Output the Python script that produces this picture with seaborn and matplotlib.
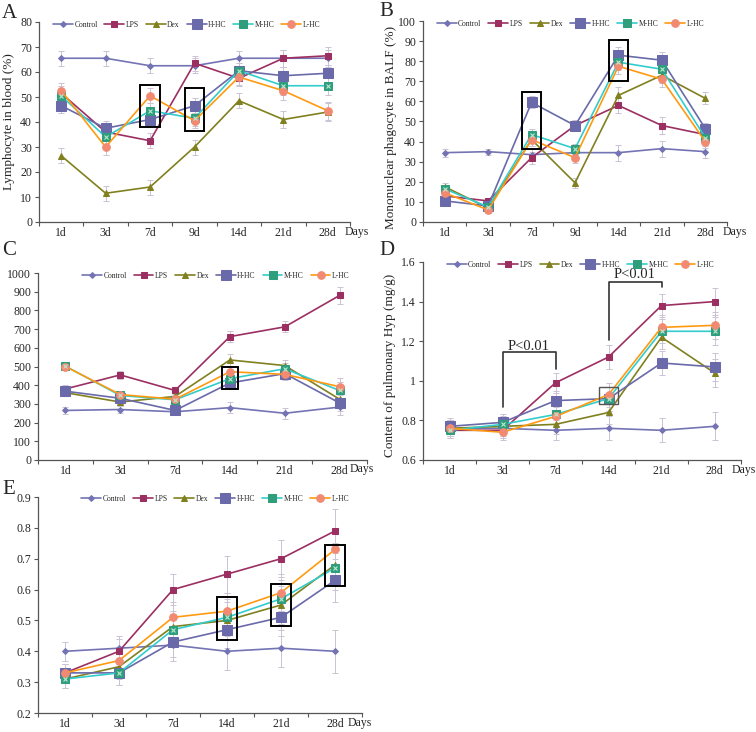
import matplotlib
matplotlib.use("Agg")
import matplotlib.pyplot as plt
from matplotlib.patches import Rectangle
import seaborn as sns
import numpy as np

sns.set_style("ticks")
plt.rcParams['font.family'] = ['Liberation Serif', 'DejaVu Serif']

# ------------------------------------------------------------
# Data
# ------------------------------------------------------------
groups = ["Control", "LPS", "Dex", "H-HC", "M-HC", "L-HC"]
days_7 = ["1d", "3d", "7d", "9d", "14d", "21d", "28d"]
days_6 = ["1d", "3d", "7d", "14d", "21d", "28d"]

# A: lymphocyte in blood (%)
a_control = [65.5, 65.5, 62.5, 62.5, 65.5, 65.5, 65.5]
a_lps = [51.5, 36, 32.5, 63.5, 57.5, 65.5, 66.5]
a_dex = [26.5, 11.5, 14, 30, 48.5, 41, 44]
a_hhc = [46.5, 37.5, 41, 46.5, 60.5, 58.5, 59.5]
a_mhc = [50.5, 34, 44.5, 41.5, 60.5, 54.5, 54.5]
a_lhc = [52.5, 30, 50.5, 40.5, 58, 52.5, 44.5]
a_err = [3, 3, 3, 3, 3, 3.5, 3.5]

# B: mononuclear phagocyte in BALF (%)
b_control = [34.5, 35, 33.5, 34.5, 34.5, 36.5, 35]
b_lps = [13, 10.5, 32, 48, 58, 48, 43.5]
b_dex = [17.5, 7, 41, 19.5, 63, 73, 61.5]
b_hhc = [10.5, 8, 59.5, 48, 83, 80.5, 46.5]
b_mhc = [16.5, 7.5, 43.5, 36.5, 79.5, 76, 42]
b_lhc = [14.5, 6, 41, 32, 77.5, 71, 40]
b_err = [2, 1.5, 3, 2.5, 4, 4, 3]

# C
c_control = [265, 270, 258, 280, 250, 283]
c_lps = [380, 455, 372, 660, 712, 880]
c_dex = [360, 310, 340, 535, 505, 325]
c_hhc = [368, 330, 265, 412, 462, 305]
c_mhc = [502, 345, 322, 435, 488, 372]
c_lhc = [500, 350, 325, 472, 458, 392]
c_err = [20, 20, 15, 30, 30, 45]

# D: pulmonary Hyp (mg/g)
d_control = [0.76, 0.76, 0.75, 0.76, 0.75, 0.77]
d_lps = [0.75, 0.75, 0.99, 1.12, 1.38, 1.40]
d_dex = [0.76, 0.77, 0.78, 0.84, 1.22, 1.04]
d_hhc = [0.77, 0.79, 0.90, 0.91, 1.09, 1.07]
d_mhc = [0.75, 0.78, 0.83, 0.91, 1.25, 1.25]
d_lhc = [0.76, 0.74, 0.82, 0.93, 1.27, 1.28]
d_err = [0.04, 0.04, 0.05, 0.06, 0.06, 0.07]

# E
e_control = [0.40, 0.41, 0.42, 0.40, 0.41, 0.40]
e_lps = [0.33, 0.40, 0.60, 0.65, 0.70, 0.79]
e_dex = [0.31, 0.35, 0.48, 0.50, 0.55, 0.68]
e_hhc = [0.33, 0.33, 0.43, 0.47, 0.51, 0.63]
e_mhc = [0.31, 0.33, 0.47, 0.51, 0.57, 0.67]
e_lhc = [0.33, 0.37, 0.51, 0.53, 0.59, 0.73]
e_err = [0.03, 0.04, 0.05, 0.06, 0.06, 0.07]

# highlight boxes: (category index, y low, y high)
a_boxes = [(2, 38.1, 54.8), (3, 36.5, 53.5)]
b_boxes = [(2, 36.5, 64.7), (4, 70.1, 90.7)]
c_boxes = [(3, 379, 497)]
d_boxes = [(3, 0.881, 0.97)]
e_boxes = [(3, 0.437, 0.575), (4, 0.482, 0.619), (5, 0.611, 0.746)]

# ------------------------------------------------------------
# Styles
# ------------------------------------------------------------
STYLE = {
    "Control": dict(color="#7474b4", marker="D", ms=3.0, mfc="#7474b4", mec="#7474b4"),
    "LPS": dict(color="#9c2f62", marker="s", ms=4.5, mfc="#9c2f62", mec="#9c2f62"),
    "Dex": dict(color="#80801f", marker="^", ms=4.5, mfc="#80801f", mec="#80801f"),
    "H-HC": dict(color="#6a6aaa", marker="s", ms=6.5, mfc="#6a6aaa", mec="#6a6aaa"),
    "M-HC": dict(color="#33cccc", marker="s", ms=6.0, mfc="#2f9e7c", mec="#2f9e7c"),
    "L-HC": dict(color="#ff9a10", marker="o", ms=5.5, mfc="#f28a72", mec="#f28a72"),
}
ERR_COLOR = "#cbc3d3"
W, H = 756, 732

fig = plt.figure(figsize=(W / 100, H / 100), dpi=100)


def add_ax(l, r, t, b):
    return fig.add_axes([l / W, 1 - b / H, (r - l) / W, (b - t) / H])


def panel_letter(letter, px, py):
    fig.text(px / W, 1 - py / H, letter, ha="left", va="center", fontsize=15)


def draw_panel(ax, labels, series, err, ylim, ystep, yfmt, ylabel,
               boxes, box_w, days_x, legend_x, box_color="black", box_lw=1.4):
    x = np.arange(len(labels))
    for name, vals in zip(groups, series):
        st = STYLE[name]
        ax.errorbar(x, vals, yerr=err, fmt="none", ecolor=ERR_COLOR,
                    elinewidth=0.7, capsize=2, capthick=0.7, zorder=1)
        sns.lineplot(x=x, y=vals, ax=ax, color=st["color"], marker=st["marker"],
                     markersize=st["ms"], markerfacecolor=st["mfc"],
                     markeredgecolor=st["mec"], linewidth=1.2, label=name,
                     zorder=3)
        if name == "M-HC":
            ax.plot(x, vals, linestyle="none", marker="x", markersize=3.2,
                    color="#b8e8d0", markeredgewidth=0.8, zorder=4)

    for xi, lo, hi in boxes:
        ax.add_patch(Rectangle((xi - box_w / 2, lo), box_w, hi - lo, fill=False,
                               edgecolor=box_color, linewidth=box_lw, zorder=5))

    ax.set_xlim(-0.5, len(labels) - 0.5)
    ax.set_ylim(*ylim)
    ax.set_xticks(x)
    ax.set_xticklabels(labels, fontsize=8.5)
    ax.set_xticks(np.arange(-0.5, len(labels), 1.0), minor=True)
    ax.tick_params(axis="x", which="major", length=0, pad=3.5)
    ax.tick_params(axis="x", which="minor", length=3, width=0.8, color="#555555")
    yt = np.arange(ylim[0], ylim[1] + ystep / 2, ystep)
    ax.set_yticks(yt)
    ax.set_yticklabels([yfmt(v) for v in yt], fontsize=8.5)
    ax.tick_params(axis="y", length=3, width=0.8, color="#555555", pad=2)
    for s in ("left", "bottom"):
        ax.spines[s].set_color("#555555")
        ax.spines[s].set_linewidth(0.9)
    sns.despine(ax=ax)
    ax.set_xlabel("")
    if ylabel:
        ax.set_ylabel(ylabel, fontsize=9.5, labelpad=2)
    ax.text(days_x, -0.018, "Days", transform=ax.transAxes, ha="left",
            va="top", fontsize=8.5)
    ax.legend(loc="upper left", bbox_to_anchor=(legend_x, 1.03), ncol=6,
              frameon=False, fontsize=5.5, handlelength=2.6, handletextpad=0.2,
              columnspacing=0.9, borderaxespad=0.2)


def fmt_int(v):
    return f"{v:.0f}"


def fmt_d(v):
    return f"{v:g}" if abs(v - round(v)) < 1e-9 else f"{v:.1f}"


axA = add_ax(39, 350, 22, 222)
draw_panel(axA, days_7, [a_control, a_lps, a_dex, a_hhc, a_mhc, a_lhc], a_err,
           (0, 80), 10, fmt_int, "Lymphocyte in blood (%)",
           a_boxes, 0.45, 0.984, 0.03)
axA.yaxis.set_label_coords(-0.078, 0.5)
panel_letter("A", 2, 13)

axB = add_ax(423, 727, 21, 222)
draw_panel(axB, days_7, [b_control, b_lps, b_dex, b_hhc, b_mhc, b_lhc], b_err,
           (0, 100), 10, fmt_int, "Mononuclear phagocyte in BALF (%)",
           b_boxes, 0.43, 0.987, 0.03)
axB.yaxis.set_label_coords(-0.085, 0.47)
panel_letter("B", 379, 11)

axC = add_ax(38, 367, 273, 460)
draw_panel(axC, days_6, [c_control, c_lps, c_dex, c_hhc, c_mhc, c_lhc], c_err,
           (0, 1000), 100, fmt_int, "",
           c_boxes, 0.3, 0.948, 0.12)
panel_letter("C", 2, 250)

axD = add_ax(423, 741, 262, 460)
draw_panel(axD, days_6, [d_control, d_lps, d_dex, d_hhc, d_mhc, d_lhc], d_err,
           (0.6, 1.6), 0.2, fmt_d, "Content of pulmonary Hyp (mg/g)",
           d_boxes, 0.34, 0.969, 0.06, box_color="#555555", box_lw=1.0)
axD.yaxis.set_label_coords(-0.085, 0.48)
panel_letter("D", 379, 250)

# significance brackets in D: (left idx, right idx, left low, top, right low, text y)
brackets = [(1, 2, 0.869, 1.146, 1.062, 1.175), (3, 4, 1.205, 1.499, 1.474, 1.536)]
for xl, xr, yl, yt_, yr, ty in brackets:
    axD.plot([xl, xl, xr, xr], [yl, yt_, yt_, yr], color="#333333", lw=1.2, zorder=6)
    axD.text((xl + xr) / 2, ty, "P<0.01", ha="center", va="center", fontsize=10.5)

axE = add_ax(38, 362, 497, 713)
draw_panel(axE, days_6, [e_control, e_lps, e_dex, e_hhc, e_mhc, e_lhc], e_err,
           (0.2, 0.9), 0.1, lambda v: f"{v:.1f}", "",
           e_boxes, 0.36, 0.957, 0.12)
panel_letter("E", 2, 489)

fig.savefig("out.png", dpi=100, facecolor="white")
